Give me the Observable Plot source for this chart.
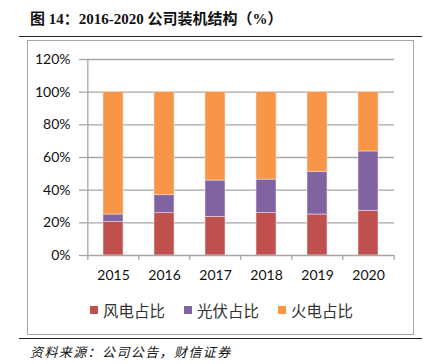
<!DOCTYPE html>
<html>
<head>
<meta charset="utf-8">
<script src="https://cdn.jsdelivr.net/npm/d3@7"></script>
<script src="https://cdn.jsdelivr.net/npm/@observablehq/plot@0.6"></script>
<style>
  html, body { margin: 0; padding: 0; background: #fff; }
  body { width: 431px; height: 364px; position: relative; overflow: hidden; font-family: "Noto Sans CJK SC", sans-serif; }
  #title { position: absolute; left: 30px; top: 7px; font-family: "Liberation Serif", "Noto Sans CJK SC", serif; font-weight: bold; font-size: 15px; color: #111; white-space: nowrap; letter-spacing: 0px; }
  #rule1 { position: absolute; left: 19px; width: 403px; top: 36px; height: 0; border-top: 1.5px solid #222; }
  #box { position: absolute; left: 27px; top: 40px; width: 385px; height: 293px; border: 1px solid #a6a6a6; box-sizing: content-box; }
  #chart { position: absolute; left: 0; top: 40px; }
  #legend { position: absolute; left: 90px; top: 299px; display: flex; font-size: 15.5px; color: #333; }
  .item { display: flex; align-items: center; margin-right: 19px; }
  .sw { width: 8px; height: 8px; margin-right: 5px; }
  #rule2 { position: absolute; left: 19px; width: 403px; top: 338px; height: 0; border-top: 1.5px solid #222; }
  #source { position: absolute; left: 30px; top: 342px; font-size: 13px; font-style: italic; color: #111; letter-spacing: 1.4px; white-space: nowrap; }
</style>
</head>
<body>
<div id="title">图 14：2016-2020 公司装机结构（%）</div>
<div id="rule1"></div>
<div id="box"></div>
<div id="chart"></div>
<div id="legend"></div>
<div id="rule2"></div>
<div id="source">资料来源：公司公告，财信证券</div>
<script>
const years = ["2015", "2016", "2017", "2018", "2019", "2020"];
const seriesNames = ["风电占比", "光伏占比", "火电占比"];
const seriesColors = ["#C0504D", "#8064A2", "#F79646"];
const wind = [20.4, 25.9, 23.7, 25.9, 25.1, 27.4];
const solar = [4.7, 11.0, 22.2, 20.6, 25.9, 36.3];
const thermal = [74.9, 63.1, 54.1, 53.5, 49.0, 36.3];
const yTicks = [0, 20, 40, 60, 80, 100, 120];

const seriesValues = [wind, solar, thermal];
const data = [];
seriesNames.forEach((s, si) => years.forEach((y, i) => data.push({year: y, series: s, value: seriesValues[si][i]})));

const W = 431, H = 252;
const mL = 86, mR = 37, mT = 19, mB = 37;
const step = (W - mL - mR) / years.length;
const half = step / 2;
const gridColor = "#a6a6a6";

const plot = Plot.plot({
  width: W, height: H,
  marginLeft: mL, marginRight: mR, marginTop: mT, marginBottom: mB,
  style: {fontFamily: "Lato, sans-serif", fontSize: "14px", color: "#111", background: "transparent"},
  x: {domain: years, paddingInner: 0.61, paddingOuter: 0.305, label: null},
  y: {domain: [0, 120], label: null},
  color: {domain: seriesNames, range: seriesColors},
  marks: [
    Plot.ruleY(yTicks.filter(d => d > 0), {stroke: gridColor, strokeWidth: 1.3}),
    Plot.barY(data, {x: "year", y: "value", fill: "series", stroke: "#f2dcdc", strokeWidth: 0.6, order: seriesNames}),
    Plot.ruleY([0], {stroke: gridColor, strokeWidth: 1.3}),
    Plot.ruleX([years[0]], {dx: -half, y1: 0, y2: 120, stroke: gridColor, strokeWidth: 1.3}),
    Plot.ruleX(years, {dx: -half, y1: 0, y2: -3, stroke: gridColor, strokeWidth: 1.3}),
    Plot.ruleX([years[years.length - 1]], {dx: half, y1: 0, y2: -3, stroke: gridColor, strokeWidth: 1.3}),
    Plot.axisY(yTicks, {tickFormat: d => d + "%", tickSize: 7, tickPadding: 9, stroke: gridColor, strokeWidth: 1.3, fill: "#111"}),
    Plot.axisX({tickSize: 0, tickPadding: 15, fill: "#111"})
  ]
});
document.getElementById("chart").appendChild(plot);

const legend = document.getElementById("legend");
seriesNames.forEach((s, i) => {
  const item = document.createElement("div");
  item.className = "item";
  const sw = document.createElement("span");
  sw.className = "sw";
  sw.style.background = seriesColors[i];
  const t = document.createElement("span");
  t.textContent = s;
  item.appendChild(sw); item.appendChild(t);
  legend.appendChild(item);
});
</script>
</body>
</html>
